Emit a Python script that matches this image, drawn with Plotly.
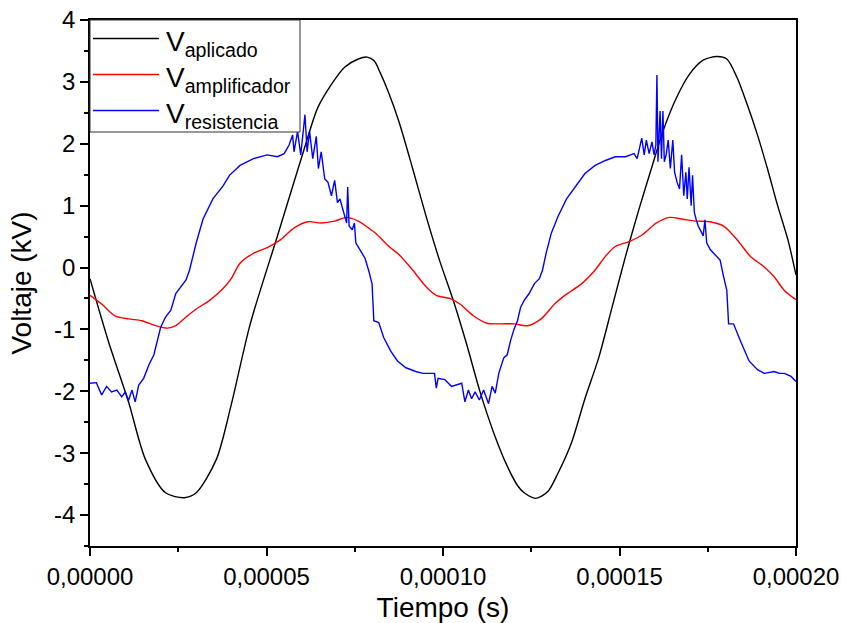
import numpy as np
import plotly.graph_objects as go

# ---- data (time in microseconds, voltage in kV) ----
t_aplicado_us = [0, 5.2, 10.9, 15.7, 21.4, 26.7, 30.1, 35.8, 40.0, 45.4, 53.1, 60.7, 64.5, 68.4,
                 72.2, 76.0, 78.5, 80.5, 82.2, 84.5, 87.5, 91.4, 95.2, 99.0, 102.9, 106.7, 110.5,
                 114.3, 118.2, 121.2, 123.0, 126.3, 129.7, 132.6, 136.4, 140.2, 144.1, 147.9,
                 151.7, 155.5, 159.3, 162.3, 166.1, 169.9, 173.7, 177.6, 180.4, 183.3, 186.2,
                 189.1, 191.9, 194.8, 197.7, 200.0]
v_aplicado = [-0.18, -1.19, -2.17, -3.10, -3.64, -3.72, -3.64, -3.10, -2.22, -0.91, 0.51, 1.92,
              2.58, 2.96, 3.24, 3.37, 3.40, 3.34, 3.15, 2.84, 2.36, 1.60, 0.83, 0.12, -0.53, -1.24,
              -2.01, -2.66, -3.21, -3.53, -3.64, -3.73, -3.62, -3.32, -2.83, -2.12, -1.46,
              -0.64, 0.18, 0.94, 1.65, 2.20, 2.74, 3.13, 3.35, 3.41, 3.37, 3.07, 2.63, 2.14,
              1.60, 1.00, 0.45, -0.12]

t_amplificador_us = [0, 3.3, 7.1, 10.9, 14.7, 18.6, 21.9, 24.3, 27.2, 30.1, 33.9, 37.7, 40.0,
                     42.5, 46.3, 50.2, 54.0, 57.8, 61.7, 65.5, 69.3, 72.7, 76.0, 78.9, 81.0,
                     84.7, 87.5, 91.4, 95.2, 98.1, 101.9, 104.8, 108.6, 112.4, 116.3, 120.1,
                     123.9, 127.8, 131.6, 134.5, 139.3, 143.1, 146.0, 148.8, 152.7, 156.5,
                     160.5, 164.2, 168.0, 171.8, 175.6, 179.5, 183.3, 187.1, 191.0, 193.8,
                     196.7, 200.0]
v_amplificador = [-0.45, -0.59, -0.78, -0.83, -0.86, -0.94, -0.98, -0.94, -0.80, -0.67, -0.53,
                  -0.34, -0.18, 0.07, 0.23, 0.32, 0.45, 0.64, 0.74, 0.72, 0.75, 0.81, 0.75,
                  0.64, 0.55, 0.34, 0.21, -0.04, -0.31, -0.45, -0.50, -0.59, -0.78, -0.90,
                  -0.91, -0.91, -0.94, -0.83, -0.59, -0.45, -0.26, -0.04, 0.18, 0.34, 0.42,
                  0.53, 0.72, 0.81, 0.78, 0.75, 0.74, 0.67, 0.45, 0.18, 0.01, -0.15, -0.37,
                  -0.52]

t_resistencia_us = [0, 1.8, 3.3, 4.7, 6.1, 7.6, 9.0, 10.0, 10.9, 11.9, 12.8, 13.8, 15.2, 16.7,
                    18.1, 19.1, 20.0, 21.4, 22.9, 24.3, 25.8, 27.2, 28.2, 30.1, 32.0, 34.8,
                    37.7, 39.5, 42.5, 46.3, 50.2, 53.1, 55.0, 56.4, 57.4, 57.8, 58.8, 59.7,
                    60.9, 61.5, 62.2, 63.1, 64.1, 64.7, 65.5, 66.5, 67.4, 68.4, 69.3, 70.1,
                    70.8, 71.7, 72.7, 73.0, 73.4, 74.3, 74.9, 75.3, 76.5, 77.9, 78.9, 79.9,
                    80.4, 81.8, 83.2, 85.2, 87.1, 89.5, 92.3, 94.3, 97.6, 98.1, 98.6, 100.5,
                    102.4, 103.8, 105.3, 106.2, 107.2, 108.1, 109.1, 110.3, 111.5, 112.9,
                    113.9, 114.8, 115.8, 117.2, 118.2, 119.1, 120.1, 121.1, 122.0, 123.0,
                    124.4, 125.9, 127.3, 128.2, 129.2, 130.7, 132.6, 135.0, 137.3, 140.2,
                    143.1, 146.0, 148.8, 151.7, 154.1, 155.0, 156.3, 157.0, 157.6, 158.4,
                    159.2, 159.8, 160.3, 160.6, 160.9, 161.5, 161.9, 162.3, 162.7, 163.2,
                    163.8, 164.4, 165.1, 165.6, 166.3, 167.0, 167.6, 168.2, 168.8, 169.2,
                    169.7, 170.3, 170.7, 171.2, 171.7, 172.3, 173.3, 173.7, 174.2, 174.7,
                    175.7, 177.6, 178.5, 179.5, 180.4, 180.9, 182.3, 184.3, 186.7, 189.1,
                    191.0, 193.8, 195.3, 196.7, 198.6, 200.0]
v_resistencia = [-1.87, -1.86, -2.06, -1.92, -2.01, -1.98, -2.09, -2.01, -2.15, -1.98, -2.17,
                 -1.90, -1.79, -1.57, -1.41, -1.19, -0.97, -0.80, -0.69, -0.42, -0.31, -0.20,
                 -0.04, 0.40, 0.78, 1.11, 1.32, 1.49, 1.65, 1.76, 1.82, 1.79, 1.84, 1.98,
                 2.14, 1.87, 2.20, 1.82, 2.47, 1.87, 2.20, 1.76, 2.12, 1.60, 1.87, 1.43,
                 1.38, 1.16, 1.41, 1.05, 1.11, 0.94, 0.72, 1.30, 0.67, 0.61, 0.72, 0.40,
                 0.29, 0.15, -0.04, -0.26, -0.86, -0.89, -1.13, -1.35, -1.51, -1.62, -1.68,
                 -1.71, -1.71, -1.95, -1.79, -1.81, -1.92, -1.90, -1.87, -2.17, -1.98,
                 -2.12, -2.01, -2.14, -1.98, -2.20, -1.92, -2.03, -1.71, -1.46, -1.41,
                 -1.19, -1.00, -0.86, -0.64, -0.53, -0.42, -0.26, -0.18, -0.04, 0.23, 0.56,
                 0.83, 1.11, 1.30, 1.52, 1.65, 1.73, 1.79, 1.79, 1.84, 1.76, 2.09, 1.82,
                 2.06, 1.84, 2.03, 1.82, 1.98, 3.11, 1.71, 2.53, 1.76, 2.53, 1.71, 1.82,
                 2.06, 1.60, 2.06, 1.54, 1.38, 1.27, 1.82, 1.16, 1.54, 1.11, 1.62, 1.00,
                 1.49, 0.89, 0.78, 0.67, 0.56, 0.51, 0.77, 0.40, 0.29, 0.18, 0.12, -0.15,
                 -0.37, -0.91, -0.91, -1.19, -1.51, -1.65, -1.71, -1.68, -1.71, -1.71,
                 -1.76, -1.84]

x_tickvals = [0, 0.00005, 0.0001, 0.00015, 0.0002]
x_ticktext = ["0,00000", "0,00005", "0,00010", "0,00015", "0,00020"]
y_tickvals = [-4, -3, -2, -1, 0, 1, 2, 3, 4]
y_ticktext = ["-4", "-3", "-2", "-1", "0", "1", "2", "3", "4"]

names = ["V<sub>aplicado</sub>", "V<sub>amplificador</sub>", "V<sub>resistencia</sub>"]
colors = ["#000000", "#FF0000", "#0000FF"]

def sec(us):
    return [u * 1e-6 for u in us]

FONT = "Liberation Sans, Arial, sans-serif"

fig = go.Figure()
series = [(t_aplicado_us, v_aplicado, "spline"),
          (t_amplificador_us, v_amplificador, "spline"),
          (t_resistencia_us, v_resistencia, "linear")]
for (t, v, shape), n, c in zip(series, names, colors):
    fig.add_trace(go.Scatter(x=sec(t), y=v, mode="lines", name=n, showlegend=False,
                             line=dict(color=c, width=1.4, shape=shape, smoothing=0.8)))

axis_common = dict(showline=True, linecolor="black", linewidth=1.5, mirror=True,
                   ticks="outside", ticklen=8, tickwidth=1.5, tickcolor="black",
                   showgrid=False, zeroline=False, automargin=False,
                   tickfont=dict(family=FONT, size=24, color="black"))

# plot area in pixels: x 90..796, y 20..546
PW, PH = 706.0, 526.0
def px(xp):
    return (xp - 90) / PW
def py(yp):
    return (546 - yp) / PH

shapes = [dict(type="rect", xref="paper", yref="paper", x0=px(90), x1=px(300),
               y0=py(132), y1=py(20), line=dict(color="#333333", width=1),
               fillcolor="white", layer="above")]
annotations = []
row_y = [38.5, 74.5, 110.5]
for ry, n, c in zip(row_y, names, colors):
    shapes.append(dict(type="line", xref="paper", yref="paper", x0=px(93), x1=px(159),
                       y0=py(ry), y1=py(ry), line=dict(color=c, width=1.5), layer="above"))
    annotations.append(dict(xref="paper", yref="paper", x=px(164), y=py(ry), text=n,
                            showarrow=False, xanchor="left", yanchor="middle", yshift=-5,
                            font=dict(family=FONT, size=28, color="black")))

fig.update_layout(
    width=841, height=623,
    margin=dict(l=90, r=45, t=20, b=77),
    paper_bgcolor="white", plot_bgcolor="white",
    font=dict(family=FONT, color="black"),
    xaxis=dict(range=[0, 0.0002], tickmode="array", tickvals=x_tickvals, ticktext=x_ticktext,
               minor=dict(tickmode="linear", tick0=0, dtick=0.000025, ticks="outside",
                          ticklen=4, tickwidth=1.5, tickcolor="black", showgrid=False),
               title=dict(text="Tiempo (s)", font=dict(family=FONT, size=28), standoff=10),
               **axis_common),
    yaxis=dict(range=[-4.5, 4], tickmode="array", tickvals=y_tickvals, ticktext=y_ticktext,
               minor=dict(tickmode="linear", tick0=0, dtick=0.5, ticks="outside",
                          ticklen=4, tickwidth=1.5, tickcolor="black", showgrid=False),
               title=dict(text="Voltaje (kV)", font=dict(family=FONT, size=28), standoff=14),
               **axis_common),
    shapes=shapes,
    annotations=annotations,
    showlegend=False,
)

fig.write_html("out.html")
